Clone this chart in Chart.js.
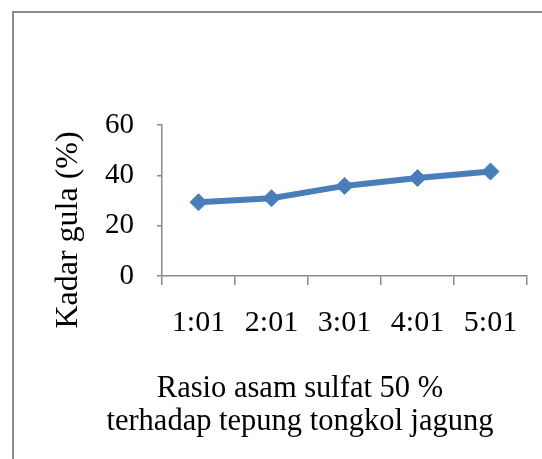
<!DOCTYPE html>
<html>
<head>
<meta charset="utf-8">
<script src="https://cdn.jsdelivr.net/npm/chart.js@4"></script>
<style>
  html, body { margin: 0; padding: 0; background: #fff; overflow: hidden; }
  #frame { position: absolute; left: 12px; top: 11px; width: 700px; height: 700px; border: 2px solid #8c8c8c; box-sizing: border-box; }
  #wrap { position: absolute; left: 0; top: 0; width: 542px; height: 459px; }
</style>
</head>
<body>
<div id="frame"></div>
<div id="wrap"><canvas id="chart" width="542" height="459"></canvas></div>
<script>
    // data
    const categories = ['1:01', '2:01', '3:01', '4:01', '5:01'];
    const kadarGula = [29.3, 30.9, 35.8, 38.9, 41.5];
    const yTicks = [0, 20, 40, 60];
    const yTitle = 'Kadar gula (%)';
    const xTitle = ['Rasio asam sulfat 50 %', 'terhadap tepung tongkol jagung'];

    const axisColor = '#8a8a8a';
    const lineColor = '#4a7ebb';
    const serif = '"Liberation Serif", "Times New Roman", serif';

    // titles are drawn by hand because they sit off-centre from the plot area
    const axisTitles = {
        id: 'axisTitles',
        afterDraw(chart) {
            const ctx = chart.ctx;
            ctx.save();
            ctx.fillStyle = '#000';
            ctx.textAlign = 'center';
            ctx.textBaseline = 'alphabetic';

            ctx.font = '32px ' + serif;
            ctx.save();
            ctx.translate(77, 230);
            ctx.rotate(-Math.PI / 2);
            ctx.fillText(yTitle, 0, 0);
            ctx.restore();

            ctx.font = '30.5px ' + serif;
            xTitle.forEach((line, i) => ctx.fillText(line, 300, 397 + i * 33));
            ctx.restore();
        }
    };

    new Chart(document.getElementById('chart'), {
        type: 'line',
        data: {
            labels: categories,
            datasets: [{
                data: kadarGula,
                borderColor: lineColor,
                backgroundColor: lineColor,
                borderWidth: 6,
                tension: 0,
                pointStyle: 'rectRot',
                pointRadius: 8.5,
                pointHoverRadius: 8.5,
                pointBorderWidth: 1,
                pointBackgroundColor: lineColor,
                pointBorderColor: lineColor
            }]
        },
        options: {
            responsive: false,
            animation: false,
            events: [],
            layout: { padding: { top: 125, right: 15, bottom: 0, left: 0 } },
            plugins: { legend: { display: false }, tooltip: { enabled: false } },
            scales: {
                x: {
                    offset: true,
                    afterFit: (scale) => { scale.height = 183; },
                    border: { color: axisColor, width: 1.5 },
                    grid: { offset: true, drawOnChartArea: false, tickLength: 9, color: axisColor, lineWidth: 1.5 },
                    ticks: { color: '#000', padding: 20, font: { family: serif, size: 30 } }
                },
                y: {
                    min: 0,
                    max: 60,
                    afterFit: (scale) => { scale.width = 162; },
                    afterBuildTicks: (scale) => { scale.ticks = yTicks.map(v => ({ value: v })); },
                    border: { color: axisColor, width: 1.5 },
                    grid: { drawOnChartArea: false, tickLength: 5, color: axisColor, lineWidth: 1.5 },
                    ticks: { color: '#000', padding: 23, font: { family: serif, size: 29 } }
                }
            }
        },
        plugins: [axisTitles]
    });
</script>
</body>
</html>
